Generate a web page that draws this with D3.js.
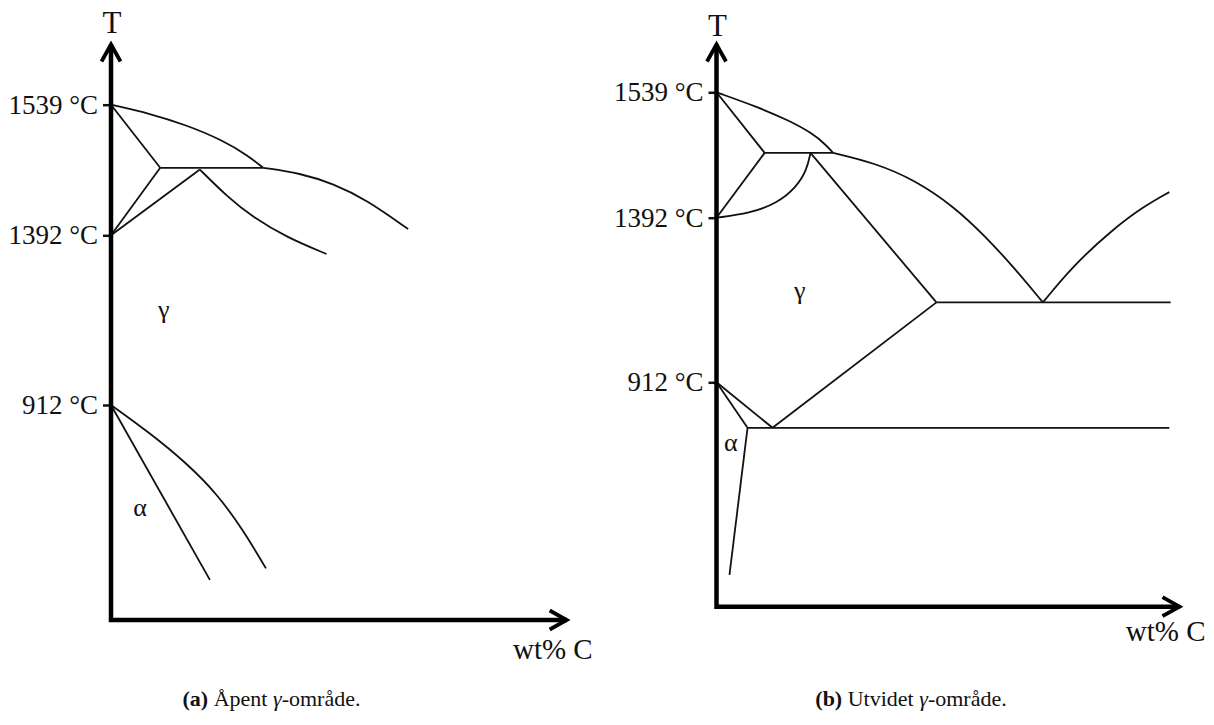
<!DOCTYPE html>
<html>
<head>
<meta charset="utf-8">
<script src="https://cdn.jsdelivr.net/npm/d3@7"></script>
<style>
  html, body { margin: 0; padding: 0; background: #fff; }
  svg { display: block; }
  text { font-family: "Liberation Serif", "Times New Roman", serif; fill: #111; }
</style>
</head>
<body>
<script>
// Schematic Fe–X phase diagrams: composition (wt% C, schematic 0–100) vs temperature (°C).

// Fixed transformation temperatures of pure iron, shown as axis ticks
const fixedTemps = [912, 1392, 1539];
// Temperature breakpoints of the (schematic, piecewise) temperature axis
const tempBreaks = [0, 912, 1392, 1539, 1750];

// ---- (a) open γ-field ----
const aLiquidusUpper = [[0, 1539], [8.6, 1529], [16.6, 1516], [24.5, 1499], [30.0, 1482], [33.4, 1468]];
const aLiquidusLower = [[33.4, 1468], [41.5, 1462], [48.8, 1450], [56.1, 1432], [65.2, 1399]];
const aDeltaSolvus1 = [[0, 1539], [10.8, 1468]];
const aDeltaSolvus2 = [[0, 1392], [10.8, 1468]];
const aDeltaSolvus3 = [[0, 1392], [19.5, 1466]];
const aPeritectic = [[10.8, 1468], [33.4, 1468]];
const aSolidus = [[19.5, 1466], [25.4, 1436], [31.2, 1412], [38.6, 1386], [47.3, 1339]];
const aAlphaSolvus = [[0, 912], [21.7, 170]];
const aGammaSolvus = [[0, 912], [8.6, 792], [16.6, 665], [23.2, 537], [29.0, 382], [34.0, 219]];
const aPhaseLabels = [{ t: "γ", c: 11.6, T: 1181 }, { t: "α", c: 6.4, T: 479 }];

// ---- (b) expanded γ-field ----
const bLiquidusUpper = [[0, 1539], [8.8, 1522], [15.6, 1506], [20.7, 1491], [23.7, 1477], [25.2, 1468]];
const bLiquidusGamma = [[25.2, 1468], [34.3, 1456], [42.9, 1436], [51.3, 1405], [58.1, 1337], [64.1, 1249], [70.5, 1145]];
const bLiquidusRight = [[70.5, 1145], [76.8, 1249], [85.4, 1356], [92.2, 1405], [97.8, 1422]];
const bDeltaSolvus1 = [[0, 1539], [10.4, 1468]];
const bDeltaSolvus2 = [[0, 1392], [10.4, 1468]];
const bDeltaGamma = [[0, 1392], [7.15, 1397], [13.1, 1409], [17.3, 1428], [19.5, 1448], [20.3, 1468]];
const bPeritectic = [[10.4, 1468], [25.2, 1468]];
const bSolidus = [[20.3, 1468], [47.5, 1145]];
const bEutectic = [[47.5, 1145], [98.1, 1145]];
const bAlphaGamma1 = [[0, 912], [6.7, 727]];
const bAlphaGamma2 = [[0, 912], [12.1, 727]];
const bAcm = [[12.1, 727], [47.5, 1145]];
const bEutectoid = [[6.7, 727], [97.8, 727]];
const bAlphaSolvus = [[6.7, 727], [2.8, 129]];
const bPhaseLabels = [{ t: "γ", c: 18.0, T: 1181 }, { t: "α", c: 3.1, T: 667 }];

const W = 1214, H = 725;
const svg = d3.select("body").append("svg").attr("width", W).attr("height", H);
svg.append("rect").attr("width", W).attr("height", H).attr("fill", "#fff");

const panels = [
  {
    xRange: [111, 566.7], yRange: [620, 405, 235.3, 104.7, 44.5],
    curves: [aLiquidusUpper, aLiquidusLower, aSolidus, aGammaSolvus],
    lines: [aDeltaSolvus1, aDeltaSolvus2, aDeltaSolvus3, aPeritectic, aAlphaSolvus],
    labels: aPhaseLabels, xLabelY: 659, tLabelY: 32.5,
    caption: { x: 271.5, bold: "(a)", pre: " Åpent ", post: "-område." }
  },
  {
    xRange: [716.5, 1179.5], yRange: [606.7, 382.3, 217.7, 92.3, 44.5],
    curves: [bLiquidusUpper, bLiquidusGamma, bLiquidusRight, bDeltaGamma],
    lines: [bDeltaSolvus1, bDeltaSolvus2, bPeritectic, bSolidus, bEutectic,
            bAlphaGamma1, bAlphaGamma2, bAcm, bEutectoid, bAlphaSolvus],
    labels: bPhaseLabels, xLabelY: 641, tLabelY: 35.5,
    caption: { x: 911, bold: "(b)", pre: " Utvidet ", post: "-område." }
  }
];

panels.forEach(p => {
  const x = d3.scaleLinear().domain([0, 100]).range(p.xRange);
  const y = d3.scaleLinear().domain(tempBreaks).range(p.yRange);
  const g = svg.append("g");

  const x0 = x(0), yBot = y(0), yTip = y(1750), xTip = x(100);

  // phase boundaries: smooth B-spline through the boundary points, straight tie lines
  const smooth = d3.line().x(d => x(d[0])).y(d => y(d[1])).curve(d3.curveBasis);
  const straight = d3.line().x(d => x(d[0])).y(d => y(d[1]));
  p.curves.forEach(c => g.append("path").attr("d", smooth(c))
    .attr("fill", "none").attr("stroke", "#111").attr("stroke-width", 1.8));
  p.lines.forEach(c => g.append("path").attr("d", straight(c))
    .attr("fill", "none").attr("stroke", "#111").attr("stroke-width", 1.8)
    .attr("stroke-linejoin", "miter"));

  // temperature ticks on the vertical axis
  const axis = d3.axisLeft(y).tickValues(fixedTemps).tickSize(8).tickPadding(5)
    .tickFormat(d => `${d} °C`);
  const ag = g.append("g").attr("transform", `translate(${x0},0)`).call(axis);
  ag.select(".domain").remove();
  ag.selectAll(".tick line").attr("stroke", "#111").attr("stroke-width", 2.5);
  ag.selectAll(".tick text").attr("font-family", "Liberation Serif")
    .attr("font-size", 27).attr("fill", "#111");

  // axes with arrow heads
  g.append("path").attr("d", `M${x0},${yTip + 2} L${x0},${yBot} L${xTip - 2},${yBot}`)
    .attr("fill", "none").attr("stroke", "#000").attr("stroke-width", 4.5)
    .attr("stroke-linejoin", "miter").attr("stroke-linecap", "square");
  g.append("path").attr("d", `M${x0 - 9.5},${yTip + 17} L${x0},${yTip} L${x0 + 9.5},${yTip + 17}`)
    .attr("fill", "none").attr("stroke", "#000").attr("stroke-width", 3.8)
    .attr("stroke-linejoin", "miter");
  g.append("path").attr("d", `M${xTip - 17},${yBot - 9.5} L${xTip},${yBot} L${xTip - 17},${yBot + 9.5}`)
    .attr("fill", "none").attr("stroke", "#000").attr("stroke-width", 3.8)
    .attr("stroke-linejoin", "miter");

  // axis titles
  g.append("text").attr("x", x0 + 1).attr("y", p.tLabelY).attr("text-anchor", "middle")
    .attr("font-size", 31).text("T");
  g.append("text").attr("x", xTip + 26).attr("y", p.xLabelY).attr("text-anchor", "end")
    .attr("font-size", 29).text("wt% C");

  // phase-field labels
  p.labels.forEach(l => g.append("text").attr("x", x(l.c)).attr("y", y(l.T))
    .attr("text-anchor", "middle").attr("dominant-baseline", "central")
    .attr("font-size", 26).text(l.t));

  // caption
  const cap = svg.append("text").attr("x", p.caption.x).attr("y", 706)
    .attr("text-anchor", "middle").attr("font-size", 22);
  cap.append("tspan").attr("font-weight", "bold").text(p.caption.bold);
  cap.append("tspan").text(p.caption.pre);
  cap.append("tspan").attr("font-style", "italic").text("γ");
  cap.append("tspan").text(p.caption.post);
});
</script>
</body>
</html>
